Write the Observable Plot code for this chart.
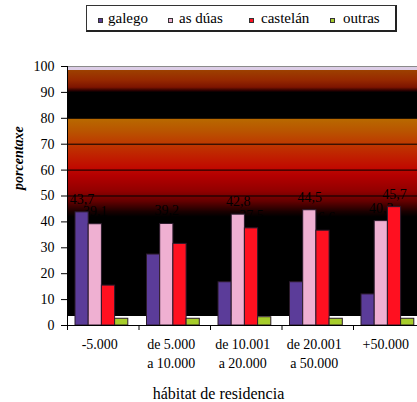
<!DOCTYPE html>
<html><head><meta charset="utf-8">
<script src="https://cdn.jsdelivr.net/npm/d3@7"></script>
<script src="https://cdn.jsdelivr.net/npm/@observablehq/plot@0.6"></script>
<style>
html,body{margin:0;padding:0;background:#fff;overflow:hidden;}
#wrap{position:relative;width:417px;height:402px;font-family:"Liberation Serif","Times New Roman",serif;}
#wrap svg{position:absolute;left:0;top:0;overflow:hidden;}
#legend{position:absolute;left:86px;top:5px;width:311px;height:27px;border:1px solid #333;border-right:2px solid #222;border-bottom:2px solid #222;background:#fff;box-sizing:border-box;}
.item{position:absolute;top:-1px;height:27px;line-height:27px;font-size:15px;color:#000;white-space:nowrap;font-family:"Liberation Serif","Times New Roman",serif;}
.sw{position:absolute;width:3px;height:3px;border:1px solid #333;top:11.5px;}
</style></head><body><div id="wrap"></div>
<script>
// ---- data ----
const categories = ["-5.000", "de 5.000\na 10.000", "de 10.001\na 20.000", "de 20.001\na 50.000", "+50.000"];
const seriesNames = ["galego", "as dúas", "castelán", "outras"];
const galego   = [43.7, 27.4, 16.7, 16.7, 12.0];
const asDuas   = [39.1, 39.2, 42.8, 44.5, 40.3];
const castelan = [15.4, 31.5, 37.5, 36.6, 45.7];
const outras   = [2.6, 2.6, 3.2, 2.6, 2.6];
const yTicks = [0, 10, 20, 30, 40, 50, 60, 70, 80, 90, 100];
const yLabel = "porcentaxe";
const xLabel = "hábitat de residencia";

// ---- styles ----
const seriesColors = ["#5b3c99", "#efb0d2", "#ff1020", "#a7cd2b"];
const bgStops = [
  [100, "#dccde6"], [98.6, "#dccde6"], [98.5, "#9c4000"], [95, "#982a00"], [92, "#7c1400"],
  [90.7, "#2a0000"], [90, "#000000"], [80.3, "#000000"], [80, "#b86a00"], [75, "#b95400"],
  [70, "#be3800"], [65, "#c01e00"], [61, "#c00a00"], [58, "#b40000"], [52, "#920000"],
  [48, "#640000"], [44, "#1a0000"], [42, "#000000"], [3.6, "#000000"], [3.5, "#ffffff"], [0, "#ffffff"]
];

const seriesValues = [galego, asDuas, castelan, outras];
const data = categories.flatMap((c, ci) =>
  seriesNames.map((s, si) => ({category: c, series: s, si, value: seriesValues[si][ci]})));

const W = 417, H = 402, mL = 67, mT = 66, mB = 77;
const band = 71.5, barStart = 8, barW = 13.2;
const fmt = v => v.toFixed(1).replace(".", ",");
const FONT = "Liberation Serif, Times New Roman, serif";

const chart = Plot.plot({
  width: W, height: H,
  marginLeft: mL, marginRight: 0, marginTop: mT, marginBottom: mB,
  style: {fontFamily: FONT, fontSize: "14px", color: "#000", background: "transparent"},
  x: {type: "band", domain: categories, range: [mL, mL + band * categories.length], padding: 0, round: false},
  y: {domain: [0, 100], range: [H - mB, mT]},
  marks: [
    Plot.frame({fill: "url(#bgGrad)", stroke: "none"}),
    Plot.ruleY(yTicks.filter(v => v > 0 && v < 100), {stroke: "#000", strokeWidth: 1}),
    Plot.ruleY([100], {stroke: "#8a8a8a"}),
    ...seriesNames.map((s, i) => Plot.text(data.filter(d => d.si === i), {
      x: "category", y: "value", text: d => fmt(d.value),
      dx: barStart + barW * (i + 0.5) - band / 2, dy: -13, fill: "#000", fontSize: 14
    })),
    ...seriesNames.map((s, i) => Plot.barY(data.filter(d => d.si === i), {
      x: "category", y: "value", fill: seriesColors[i], stroke: "#2b1a2b", strokeWidth: 1,
      insetLeft: barStart + barW * i, insetRight: band - barStart - barW * (i + 1)
    })),
    Plot.axisY(yTicks, {tickSize: 6, tickPadding: 7, fontSize: 14, label: null, stroke: "#000"}),
    Plot.axisX({tickSize: 0, tickPadding: 10, fontSize: 14, lineHeight: 1.35, dx: -3.5, label: null}),
    Plot.axisX({tickSize: 5, tickFormat: () => "", dx: -band / 2, label: null, stroke: "#000"}),
    Plot.frame({anchor: "left", stroke: "#000"}),
    Plot.ruleY([0], {stroke: "#000"}),
    Plot.text([yLabel], {text: d => d, frameAnchor: "left", dx: -49, dy: -6, rotate: -90,
      fontStyle: "italic", fontWeight: "bold", fontSize: 14}),
    Plot.text([xLabel], {text: d => d, frameAnchor: "bottom", dx: -24, dy: 73, fontSize: 16})
  ]
});

// gradient background
const ns = "http://www.w3.org/2000/svg";
const defs = document.createElementNS(ns, "defs");
const grad = document.createElementNS(ns, "linearGradient");
grad.setAttribute("id", "bgGrad");
grad.setAttribute("x1", "0"); grad.setAttribute("y1", "0");
grad.setAttribute("x2", "0"); grad.setAttribute("y2", "1");
for (const [v, c] of bgStops) {
  const st = document.createElementNS(ns, "stop");
  st.setAttribute("offset", ((100 - v) / 100).toFixed(4));
  st.setAttribute("stop-color", c);
  grad.appendChild(st);
}
defs.appendChild(grad);
chart.insertBefore(defs, chart.firstChild);

const wrap = document.getElementById("wrap");
wrap.appendChild(chart);

// legend
const legend = document.createElement("div");
legend.id = "legend";
const swX = [10.5, 80.5, 162, 242.5];
const txX = [21, 92, 174, 256];
seriesNames.forEach((s, i) => {
  const sw = document.createElement("div");
  sw.className = "sw"; sw.style.left = swX[i] + "px"; sw.style.background = seriesColors[i];
  legend.appendChild(sw);
  const t = document.createElement("div");
  t.className = "item"; t.style.left = txX[i] + "px"; t.textContent = s;
  legend.appendChild(t);
});
wrap.appendChild(legend);
</script></body></html>
